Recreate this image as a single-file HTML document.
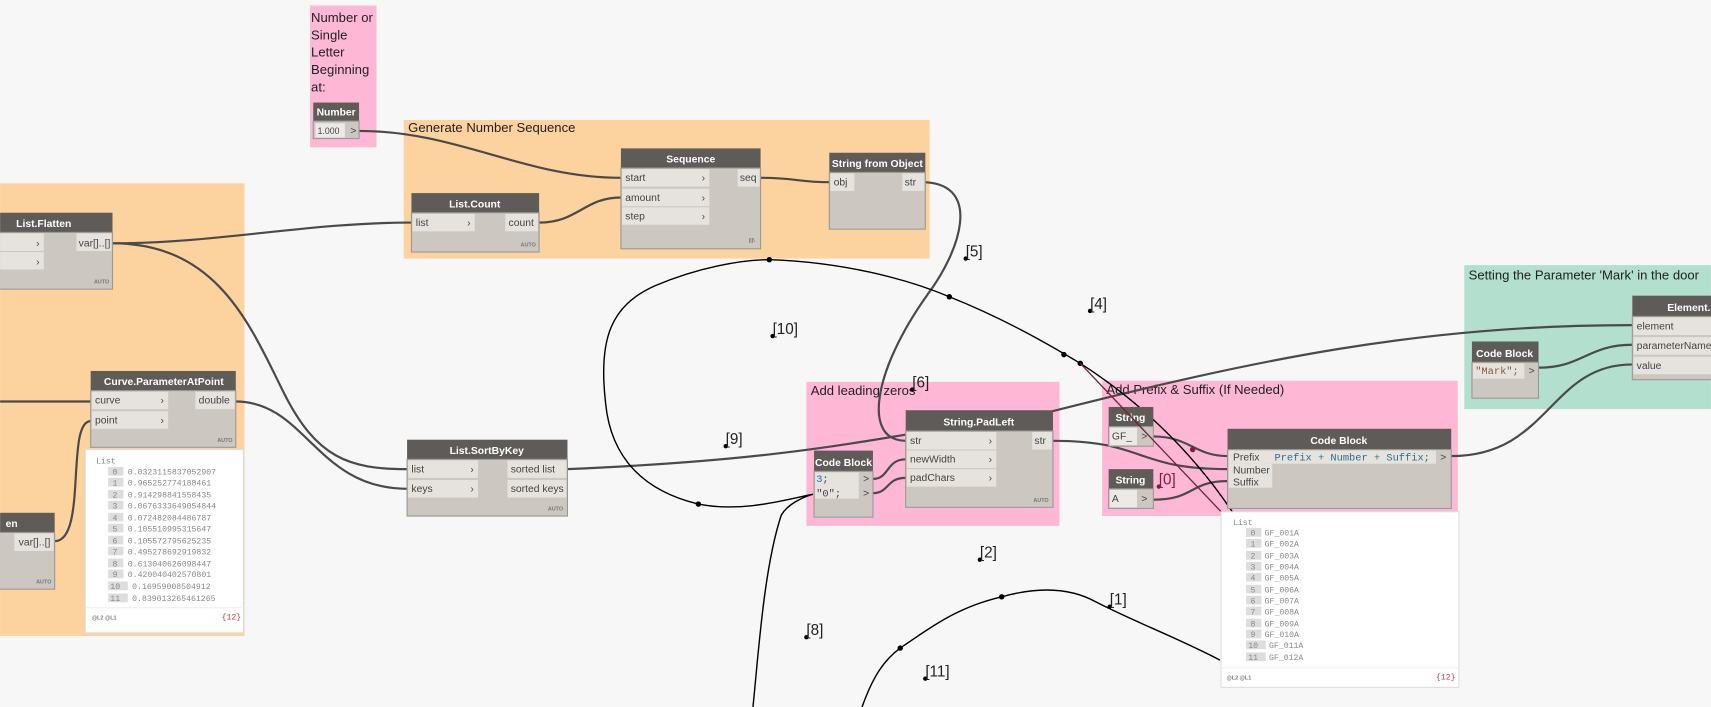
<!DOCTYPE html>
<html><head><meta charset="utf-8"><style>
html,body{margin:0;padding:0;background:#f7f7f7;overflow:hidden}
svg{display:block}
.h{font-family:"Liberation Sans Narrow","Liberation Sans",sans-serif;font-size:9.5px;font-weight:bold;fill:#fff;text-anchor:middle}
.p{font-family:"Liberation Sans Narrow","Liberation Sans",sans-serif;font-size:9.5px;fill:#444}
.g{font-family:"Liberation Sans","DejaVu Sans",sans-serif;font-size:12px;fill:#222}
.m{font-family:"Liberation Mono","DejaVu Sans Mono",monospace;font-size:7.5px;fill:#888}
.c{font-family:"Liberation Mono","DejaVu Sans Mono",monospace;font-size:9.5px}
.a{font-family:"Liberation Sans",sans-serif;font-size:5px;fill:#777;font-weight:bold}
.l{font-family:"Liberation Sans Narrow","Liberation Sans",sans-serif;font-size:14px;fill:#222}
.w{fill:none;stroke:#4a4a4a;stroke-width:2}
.b{fill:none;stroke:#000;stroke-width:1.3}
.hd{fill:#5e5b58}
.bd{fill:#ccc8c1;stroke:#9a9894;stroke-width:1}
.r{fill:#e6e3de}
</style></head><body>
<svg width="1711" height="707" viewBox="0 0 1568 648" xmlns="http://www.w3.org/2000/svg">
<rect width="1568" height="648" fill="#f7f7f7"/>
<rect x="284" y="5" width="61" height="130" fill="#feb8d6"/>
<text class="g" x="285" y="20">Number or</text><text class="g" x="285" y="36">Single</text><text class="g" x="285" y="52">Letter</text><text class="g" x="285" y="68">Beginning</text><text class="g" x="285" y="84">at:</text>
<rect x="370" y="110" width="482" height="127" fill="#fcd29e"/>
<text class="g" x="374" y="121">Generate Number Sequence</text>
<rect x="0" y="168" width="224" height="415" fill="#fcd29e"/>
<rect x="739" y="350" width="232" height="132" fill="#feb8d6"/>
<text class="g" x="743" y="362">Add leading zeros</text>
<rect x="1010" y="349" width="326" height="124" fill="#feb8d6"/>
<text class="g" x="1014" y="361">Add Prefix &amp; Suffix (If Needed)</text>
<rect x="1342" y="243" width="226" height="132" fill="#b3dfcf"/>
<text class="g" x="1346" y="256">Setting the Parameter 'Mark' in the door</text>

<path class="w" d="M329,120 C420,120 480,163 569,163"/>
<path class="w" d="M494,204 C530,204 535,181 569,181"/>
<path class="w" d="M697,163 C730,163 730,167 760,167"/>
<path class="w" d="M103,223 C200,223 280,204 377,204"/>
<path class="w" d="M103,223 C200,223 230,300 260,360 C290,420 320,430 373,430"/>
<path class="w" d="M216,368 C280,368 290,448 373,448"/>
<path class="w" d="M50,496 C80,496 60,386 83,386"/>
<path class="w" d="M0,368 L83,368"/>
<path class="w" d="M520,430 C750,420 800,400 960,378 C1150,330 1300,298 1496,298"/>
<path class="w" d="M848,167 C900,170 880,230 850,270 C800,340 790,404 830,404"/>
<path class="w" d="M800,439 C815,439 812,421 830,421"/>
<path class="w" d="M800,452 C815,452 812,438 830,438"/>
<path class="w" d="M965,404 C1050,404 1040,430 1125,430"/>
<path class="w" d="M1057,400 C1090,400 1095,418 1125,418"/>
<path class="w" d="M1057,458 C1095,458 1090,441 1125,441"/>
<path class="w" d="M1330,418 C1420,418 1420,334 1496,334"/>
<path class="w" d="M1410,337 C1450,337 1455,316 1496,316"/>

<path class="b" d="M690,648 C695,600 700,520 716,472 C722,462 735,456 745,453 C720,458 680,470 640,462 C590,450 560,420 555,370 C548,310 560,280 600,262 C640,245 680,238 705,238 C770,240 830,255 870,272 C920,292 960,315 990,333 C1040,365 1090,410 1130,470"/>
<path class="b" d="M790,648 C800,620 810,605 825,594 C860,570 880,556 918,547 C950,538 980,538 1005,552 C1040,570 1080,585 1118,605"/>
<g fill="#000"><circle cx="640" cy="462" r="2.5"/><circle cx="705" cy="238" r="2.5"/><circle cx="870" cy="272" r="2.5"/><circle cx="975" cy="325" r="2.5"/><circle cx="990" cy="333" r="2.5"/><circle cx="825" cy="594" r="2.5"/><circle cx="918" cy="547" r="2.5"/><circle cx="1093" cy="412" r="2.5" fill="#7a2040"/></g>

<g fill="#000">
<circle cx="885" cy="237" r="2"/><text class="l" x="885" y="235">[5]</text>
<circle cx="999" cy="285" r="2"/><text class="l" x="999" y="283">[4]</text>
<circle cx="708" cy="308" r="2"/><text class="l" x="708" y="306">[10]</text>
<circle cx="836" cy="357" r="2"/><text class="l" x="836" y="355">[6]</text>
<circle cx="665" cy="409" r="2"/><text class="l" x="665" y="407">[9]</text>
<circle cx="1062" cy="446" r="2" fill="#7a2040"/><text class="l" x="1062" y="444" style="fill:#7a2040">[0]</text>
<circle cx="898" cy="513" r="2"/><text class="l" x="898" y="511">[2]</text>
<circle cx="1017" cy="556" r="2"/><text class="l" x="1017" y="554">[1]</text>
<circle cx="739" cy="584" r="2"/><text class="l" x="739" y="582">[8]</text>
<circle cx="848" cy="622" r="2"/><text class="l" x="848" y="620">[11]</text>
</g>

<rect class="hd" x="287" y="94" width="42" height="17"/><text class="h" x="308" y="106">Number</text>
<rect class="bd" x="287" y="111" width="42" height="16"/>
<rect x="289" y="113" width="27" height="13" fill="#eceae6"/><text class="p" x="291" y="123" style="font-size:8px">1.000</text><text class="p" x="321" y="123">&gt;</text>

<rect class="hd" x="569" y="136" width="128" height="18"/><text class="h" x="633" y="149">Sequence</text>
<rect class="bd" x="569" y="154" width="128" height="74"/>
<rect class="r" x="570" y="155" width="80" height="16"/><text class="p" x="573" y="166">start</text><text class="p" x="643" y="166">›</text>
<rect class="r" x="570" y="173" width="80" height="16"/><text class="p" x="573" y="184">amount</text><text class="p" x="643" y="184">›</text>
<rect class="r" x="570" y="190" width="80" height="16"/><text class="p" x="573" y="201">step</text><text class="p" x="643" y="201">›</text>
<rect class="r" x="676" y="155" width="20" height="16"/><text class="p" x="678" y="166">seq</text>
<text class="a" x="686" y="222">|||\</text>

<rect class="hd" x="377" y="177" width="117" height="18"/><text class="h" x="435" y="190">List.Count</text>
<rect class="bd" x="377" y="195" width="117" height="36"/>
<rect class="r" x="378" y="196" width="57" height="16"/><text class="p" x="381" y="207">list</text><text class="p" x="428" y="207">›</text>
<rect class="r" x="463" y="196" width="30" height="16"/><text class="p" x="466" y="207">count</text>
<text class="a" x="477" y="226">AUTO</text>

<rect class="hd" x="760" y="140" width="88" height="18"/><text class="h" x="804" y="153">String from Object</text>
<rect class="bd" x="760" y="158" width="88" height="52"/>
<rect class="r" x="761" y="159" width="22" height="16"/><text class="p" x="764" y="170">obj</text>
<rect class="r" x="827" y="159" width="20" height="16"/><text class="p" x="829" y="170">str</text>

<rect class="hd" x="0" y="195" width="103" height="18"/><text class="h" x="40" y="208">List.Flatten</text>
<rect class="bd" x="-1" y="213" width="104" height="52"/>
<rect class="r" x="0" y="214" width="40" height="16"/><text class="p" x="33" y="226">›</text>
<rect class="r" x="0" y="231" width="40" height="16"/><text class="p" x="33" y="243">›</text>
<rect class="r" x="70" y="214" width="32" height="16"/><text class="p" x="72" y="226">var[]..[]</text>
<text class="a" x="86" y="260">AUTO</text>

<rect class="hd" x="83" y="340" width="133" height="18"/><text class="h" x="150" y="353">Curve.ParameterAtPoint</text>
<rect class="bd" x="83" y="358" width="133" height="52"/>
<rect class="r" x="84" y="359" width="70" height="16"/><text class="p" x="87" y="370">curve</text><text class="p" x="147" y="370">›</text>
<rect class="r" x="84" y="377" width="70" height="16"/><text class="p" x="87" y="388">point</text><text class="p" x="147" y="388">›</text>
<rect class="r" x="179" y="359" width="36" height="16"/><text class="p" x="182" y="370">double</text>
<text class="a" x="199" y="405">AUTO</text>
<rect x="78" y="412" width="145" height="168" fill="#fff" stroke="#ddd"/>
<text class="m" x="88" y="425">List</text>
<g>
<rect x="99" y="428" width="14" height="8" fill="#ddd"/><text class="m" x="103" y="435">0</text><text class="m" x="117" y="435">0.0323115837052907</text>
<rect x="99" y="438" width="14" height="8" fill="#ddd"/><text class="m" x="103" y="445">1</text><text class="m" x="117" y="445">0.965252774188461</text>
<rect x="99" y="449" width="14" height="8" fill="#ddd"/><text class="m" x="103" y="456">2</text><text class="m" x="117" y="456">0.914298841558435</text>
<rect x="99" y="459" width="14" height="8" fill="#ddd"/><text class="m" x="103" y="466">3</text><text class="m" x="117" y="466">0.0676333649054844</text>
<rect x="99" y="470" width="14" height="8" fill="#ddd"/><text class="m" x="103" y="477">4</text><text class="m" x="117" y="477">0.072482084486787</text>
<rect x="99" y="480" width="14" height="8" fill="#ddd"/><text class="m" x="103" y="487">5</text><text class="m" x="117" y="487">0.105510995315647</text>
<rect x="99" y="491" width="14" height="8" fill="#ddd"/><text class="m" x="103" y="498">6</text><text class="m" x="117" y="498">0.105572795625235</text>
<rect x="99" y="501" width="14" height="8" fill="#ddd"/><text class="m" x="103" y="508">7</text><text class="m" x="117" y="508">0.495278692919832</text>
<rect x="99" y="512" width="14" height="8" fill="#ddd"/><text class="m" x="103" y="519">8</text><text class="m" x="117" y="519">0.613040626098447</text>
<rect x="99" y="522" width="14" height="8" fill="#ddd"/><text class="m" x="103" y="529">9</text><text class="m" x="117" y="529">0.420040402570801</text>
<rect x="99" y="533" width="18" height="8" fill="#ddd"/><text class="m" x="101" y="540">10</text><text class="m" x="121" y="540">0.16959008504912</text>
<rect x="99" y="544" width="18" height="8" fill="#ddd"/><text class="m" x="101" y="551">11</text><text class="m" x="121" y="551">0.839013265461265</text>
</g>
<line x1="79" y1="557" x2="222" y2="557" stroke="#eee"/>
<text class="a" x="84" y="568">@L2 @L1</text><text class="m" x="203" y="568" style="fill:#b04040">{12}</text>

<rect class="hd" x="0" y="470" width="50" height="18"/><text class="h" x="5" y="483" style="text-anchor:start">en</text>
<rect class="bd" x="-1" y="488" width="51" height="52"/>
<rect class="r" x="13" y="489" width="36" height="16"/><text class="p" x="17" y="500">var[]..[]</text>
<text class="a" x="33" y="535">AUTO</text>

<rect class="hd" x="373" y="403" width="147" height="18"/><text class="h" x="446" y="416">List.SortByKey</text>
<rect class="bd" x="373" y="421" width="147" height="52"/>
<rect class="r" x="374" y="422" width="64" height="16"/><text class="p" x="377" y="433">list</text><text class="p" x="431" y="433">›</text>
<rect class="r" x="374" y="440" width="64" height="16"/><text class="p" x="377" y="451">keys</text><text class="p" x="431" y="451">›</text>
<rect class="r" x="465" y="422" width="54" height="16"/><text class="p" x="468" y="433">sorted list</text>
<rect class="r" x="465" y="440" width="54" height="16"/><text class="p" x="468" y="451">sorted keys</text>
<text class="a" x="502" y="468">AUTO</text>

<rect class="hd" x="746" y="413" width="54" height="19"/><text class="h" x="773" y="427">Code Block</text>
<rect class="bd" x="746" y="432" width="54" height="42"/>
<rect class="r" x="747" y="433" width="40" height="24"/>
<text class="c" x="748" y="442" fill="#1e6fd0">3<tspan fill="#444">;</tspan></text>
<text class="c" x="748" y="455" fill="#444">"0";</text>
<text class="p" x="791" y="442">&gt;</text><text class="p" x="791" y="455">&gt;</text>

<rect class="hd" x="830" y="376" width="135" height="19"/><text class="h" x="897" y="390">String.PadLeft</text>
<rect class="bd" x="830" y="395" width="135" height="70"/>
<rect class="r" x="831" y="396" width="82" height="16"/><text class="p" x="834" y="407">str</text><text class="p" x="906" y="407">›</text>
<rect class="r" x="831" y="413" width="82" height="16"/><text class="p" x="834" y="424">newWidth</text><text class="p" x="906" y="424">›</text>
<rect class="r" x="831" y="430" width="82" height="16"/><text class="p" x="834" y="441">padChars</text><text class="p" x="906" y="441">›</text>
<rect class="r" x="946" y="396" width="18" height="16"/><text class="p" x="948" y="407">str</text>
<text class="a" x="947" y="460">AUTO</text>

<rect class="hd" x="1016" y="373" width="41" height="18"/><text class="h" x="1036" y="386">String</text>
<rect class="bd" x="1016" y="391" width="41" height="18"/>
<rect x="1017" y="392" width="25" height="16" fill="#eceae6"/><text class="p" x="1019" y="403">GF_</text><text class="p" x="1046" y="403">&gt;</text>
<rect class="hd" x="1016" y="430" width="41" height="18"/><text class="h" x="1036" y="443">String</text>
<rect class="bd" x="1016" y="448" width="41" height="18"/>
<rect x="1017" y="449" width="25" height="16" fill="#eceae6"/><text class="p" x="1019" y="460">A</text><text class="p" x="1046" y="460">&gt;</text>
<path d="M990,333 L1120,470" stroke="#6b2540" stroke-width="1.2" fill="none"/>

<rect class="hd" x="1125" y="393" width="205" height="19"/><text class="h" x="1227" y="407">Code Block</text>
<rect class="bd" x="1125" y="412" width="205" height="54"/>
<rect class="r" x="1126" y="413" width="190" height="12"/>
<rect class="r" x="1126" y="425" width="40" height="22"/>
<text class="p" x="1130" y="422">Prefix</text><text class="p" x="1130" y="434">Number</text><text class="p" x="1130" y="445">Suffix</text>
<text class="c" x="1168" y="422" fill="#2d6c93">Prefix + Number + Suffix;</text>
<text class="p" x="1320" y="422">&gt;</text>
<rect x="1119" y="469" width="218" height="161" fill="#fff" stroke="#ddd"/>
<text class="m" x="1130" y="481">List</text>
<g>
<rect x="1142" y="484" width="14" height="8" fill="#ddd"/><text class="m" x="1146" y="491">0</text><text class="m" x="1159" y="491">GF_001A</text>
<rect x="1142" y="494" width="14" height="8" fill="#ddd"/><text class="m" x="1146" y="501">1</text><text class="m" x="1159" y="501">GF_002A</text>
<rect x="1142" y="505" width="14" height="8" fill="#ddd"/><text class="m" x="1146" y="512">2</text><text class="m" x="1159" y="512">GF_003A</text>
<rect x="1142" y="515" width="14" height="8" fill="#ddd"/><text class="m" x="1146" y="522">3</text><text class="m" x="1159" y="522">GF_004A</text>
<rect x="1142" y="525" width="14" height="8" fill="#ddd"/><text class="m" x="1146" y="532">4</text><text class="m" x="1159" y="532">GF_005A</text>
<rect x="1142" y="536" width="14" height="8" fill="#ddd"/><text class="m" x="1146" y="543">5</text><text class="m" x="1159" y="543">GF_006A</text>
<rect x="1142" y="546" width="14" height="8" fill="#ddd"/><text class="m" x="1146" y="553">6</text><text class="m" x="1159" y="553">GF_007A</text>
<rect x="1142" y="556" width="14" height="8" fill="#ddd"/><text class="m" x="1146" y="563">7</text><text class="m" x="1159" y="563">GF_008A</text>
<rect x="1142" y="567" width="14" height="8" fill="#ddd"/><text class="m" x="1146" y="574">8</text><text class="m" x="1159" y="574">GF_009A</text>
<rect x="1142" y="577" width="14" height="8" fill="#ddd"/><text class="m" x="1146" y="584">9</text><text class="m" x="1159" y="584">GF_010A</text>
<rect x="1142" y="587" width="18" height="8" fill="#ddd"/><text class="m" x="1144" y="594">10</text><text class="m" x="1163" y="594">GF_011A</text>
<rect x="1142" y="598" width="18" height="8" fill="#ddd"/><text class="m" x="1144" y="605">11</text><text class="m" x="1163" y="605">GF_012A</text>
</g>
<line x1="1120" y1="612" x2="1336" y2="612" stroke="#eee"/>
<text class="a" x="1124" y="623">@L2 @L1</text><text class="m" x="1316" y="623" style="fill:#b04040">{12}</text>

<rect class="hd" x="1349" y="313" width="61" height="19"/><text class="h" x="1379" y="327">Code Block</text>
<rect class="bd" x="1349" y="332" width="61" height="33"/>
<rect class="r" x="1350" y="333" width="47" height="14"/>
<text class="c" x="1352" y="343" fill="#8a5a3a">"Mark";</text><text class="p" x="1401" y="343">&gt;</text>

<rect class="hd" x="1496" y="271" width="80" height="19"/><text class="h" x="1528" y="285" style="text-anchor:start">Element.Se</text>
<rect class="bd" x="1496" y="290" width="80" height="58"/>
<rect class="r" x="1497" y="291" width="80" height="16"/><text class="p" x="1500" y="302">element</text>
<rect class="r" x="1497" y="309" width="80" height="16"/><text class="p" x="1500" y="320">parameterName</text>
<rect class="r" x="1497" y="327" width="80" height="16"/><text class="p" x="1500" y="338">value</text>
</svg>
</body></html>
